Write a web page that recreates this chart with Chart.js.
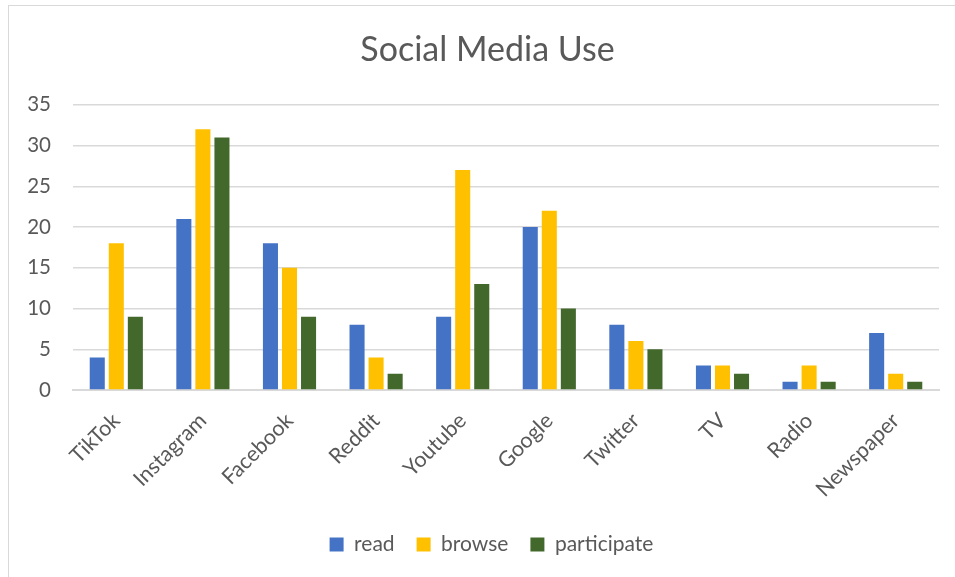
<!DOCTYPE html>
<html>
<head>
<meta charset="utf-8">
<script src="https://cdn.jsdelivr.net/npm/chart.js@4"></script>
<style>
  html, body { margin: 0; padding: 0; background: #fff; overflow: hidden; }
  #frame {
    position: absolute; left: 8px; top: 5px; width: 960px; height: 590px;
    border: 1px solid #d9d9d9; box-sizing: border-box;
  }
  #wrap { position: absolute; left: 0; top: 0; width: 955px; height: 577px; }
</style>
</head>
<body>
<div id="frame"></div>
<div id="wrap"><canvas id="chart"></canvas></div>
<script>
const categories = ["TikTok", "Instagram", "Facebook", "Reddit", "Youtube", "Google", "Twitter", "TV", "Radio", "Newspaper"];
const readValues = [4, 21, 18, 8, 9, 20, 8, 3, 1, 7];
const browseValues = [18, 32, 15, 4, 27, 22, 6, 3, 3, 2];
const participateValues = [9, 31, 9, 2, 13, 10, 5, 2, 1, 1];

const textColor = "#595959";
const fontFamily = "Lato, 'Open Sans', sans-serif";

// title and legend sit a little right of the plot centre in the original
const nudgeBoxes = {
  id: "nudgeBoxes",
  afterLayout(chart) {
    if (chart.titleBlock) { chart.titleBlock.left += 14; chart.titleBlock.right += 14; }
    if (chart.legend) { chart.legend.left += 18; chart.legend.right += 18; }
  },
};

new Chart(document.getElementById("chart"), {
  type: "bar",
  data: {
    labels: categories,
    datasets: [
      { label: "read", data: readValues, backgroundColor: "#4472C4" },
      { label: "browse", data: browseValues, backgroundColor: "#FFC000" },
      { label: "participate", data: participateValues, backgroundColor: "#43682B" },
    ],
  },
  options: {
    responsive: true,
    maintainAspectRatio: false,
    animation: false,
    datasets: {
      bar: { categoryPercentage: 0.66, barPercentage: 0.79 },
    },
    layout: { padding: { left: 8, right: 16, top: 0, bottom: 12 } },
    plugins: {
      title: {
        display: true,
        text: "Social Media Use",
        color: textColor,
        font: { family: fontFamily, size: 34, weight: "normal" },
        padding: { top: 30, bottom: 34 },
      },
      legend: {
        position: "bottom",
        labels: {
          color: textColor,
          font: { family: fontFamily, size: 21 },
          boxWidth: 14,
          boxHeight: 14,
          padding: 22,
        },
      },
      tooltip: { enabled: false },
    },
    scales: {
      x: {
        grid: { display: false },
        border: { color: "#d9d9d9", width: 2 },
        ticks: {
          color: textColor,
          font: { family: fontFamily, size: 21.5 },
          minRotation: 45,
          maxRotation: 45,
          padding: 10,
        },
        afterFit: (scale) => { scale.height = 122; },
      },
      y: {
        min: 0,
        max: 35,
        ticks: {
          stepSize: 5,
          color: textColor,
          font: { family: fontFamily, size: 20.5 },
          padding: 22,
        },
        grid: { color: "#d9d9d9", lineWidth: 1.5, drawTicks: false },
        border: { display: false },
        afterFit: (scale) => { scale.width = 65; },
      },
    },
  },
  plugins: [nudgeBoxes],
});
</script>
</body>
</html>
